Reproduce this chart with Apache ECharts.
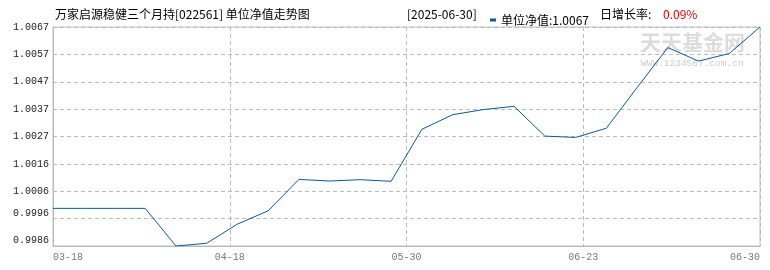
<!DOCTYPE html>
<html>
<head>
<meta charset="utf-8">
<script src="https://cdn.jsdelivr.net/npm/echarts@6/dist/echarts.min.js"></script>
<style>
html,body{margin:0;padding:0;background:#fff;}
#c{width:770px;height:270px;}
</style>
</head>
<body>
<div id="c"></div>
<script>
// Unit NAV values (one per reported point, left to right)
const navValues = [1.00000, 1.00000, 1.00000, 1.00000, 0.99861, 0.99871, 0.99942, 0.99991,
  1.00107, 1.00101, 1.00106, 1.00100, 1.00292, 1.00346, 1.00365, 1.00377,
  1.00267, 1.00262, 1.00296, 1.00446, 1.00594, 1.00544, 1.00572, 1.00670];
// x-axis tick labels (evenly spaced across the plot)
const xTickLabels = ['03-18', '04-18', '05-30', '06-23', '06-30'];
const yMin = 0.99861;
const yMax = 1.00670;
const titleText = '万家启源稳健三个月持[022561] 单位净值走势图';
const dateText = '[2025-06-30]';
const seriesName = '单位净值';
const growthLabel = '日增长率:';
const growthValue = '0.09%';

const chart = echarts.init(document.getElementById('c'), null, {renderer: 'canvas'});
const lastIdx = navValues.length - 1;
const xInterval = lastIdx / (xTickLabels.length - 1);
const yInterval = (yMax - yMin) / 8;
const monoFont = '"Liberation Mono", "DejaVu Sans Mono", monospace';
const cjkFont = '"Noto Sans CJK SC", "Noto Sans", sans-serif';

chart.setOption({
  animation: false,
  backgroundColor: '#fff',
  grid: {left: 53, right: 10, top: 27, bottom: 24, show: true, borderColor: '#c0c0c0', borderWidth: 1},
  legend: {
    data: [seriesName], left: 485, top: 9, icon: 'rect', itemWidth: 6, itemHeight: 3,
    formatter: n => n + ':' + navValues[lastIdx].toFixed(4),
    textStyle: {fontFamily: cjkFont, fontSize: 12, color: '#000'}
  },
  graphic: [
    {type: 'text', left: 55, top: 8, style: {text: titleText, fontFamily: cjkFont, fontSize: 12, fill: '#000'}},
    {type: 'text', left: 407, top: 8, style: {text: dateText, fontFamily: cjkFont, fontSize: 12, fill: '#000'}},
    {type: 'text', left: 600, top: 8, style: {text: growthLabel, fontFamily: cjkFont, fontSize: 12, fill: '#000'}},
    {type: 'text', left: 663, top: 8, style: {text: growthValue, fontFamily: cjkFont, fontSize: 12, fill: '#e00000'}},
    {type: 'text', left: 640, top: 32, z: -10, style: {text: '天天基金网', fontFamily: cjkFont, fontSize: 21, fontWeight: 'bold', fill: '#dcdcdc'}},
    {type: 'text', left: 641, top: 58, z: -10, style: {text: 'WWW.1234567.com.cn', fontFamily: monoFont, fontSize: 9.5, fill: '#cccccc'}}
  ],
  xAxis: {
    type: 'value', min: 0, max: lastIdx, interval: xInterval,
    axisLine: {show: true, lineStyle: {color: '#b8b8b8'}},
    axisTick: {show: false},
    splitLine: {show: true, lineStyle: {color: '#bbbbbb', type: [4, 3]}},
    axisLabel: {
      color: '#777', fontFamily: monoFont, fontSize: 10, margin: 6,
      alignMinLabel: 'left', alignMaxLabel: 'right',
      formatter: v => xTickLabels[Math.round(v / xInterval)]
    }
  },
  yAxis: {
    type: 'value', min: yMin, max: yMax, interval: yInterval,
    axisLine: {show: true, lineStyle: {color: '#b8b8b8'}},
    axisTick: {show: false},
    splitLine: {show: true, lineStyle: {color: '#bbbbbb', type: [4, 3]}},
    axisLabel: {
      color: '#222', fontFamily: monoFont, fontSize: 10, margin: 4,
      formatter: v => {
        const k = Math.round((v - yMin) / yInterval);
        const s = v.toFixed(4);
        return k <= 1 ? '{up|' + s + '}' : s;
      },
      rich: {up: {fontFamily: monoFont, fontSize: 10, color: '#222', padding: [0, 0, 11, 0]}}
    }
  },
  series: [{
    name: seriesName, type: 'line', showSymbol: false, z: 5,
    data: navValues.map((v, i) => [i, v]),
    lineStyle: {color: '#0a57a4', width: 1},
    itemStyle: {color: '#0a57a4'}
  }]
});
</script>
</body>
</html>
